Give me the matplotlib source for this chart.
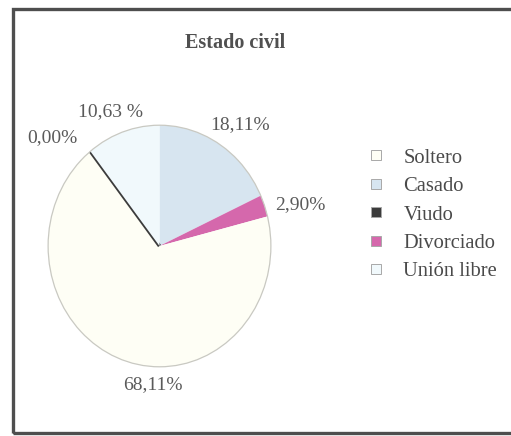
import matplotlib
matplotlib.use('Agg')
import matplotlib.pyplot as plt
from matplotlib.lines import Line2D
from matplotlib.patches import Rectangle, Ellipse

plt.rcParams['font.family'] = ['Liberation Serif', 'DejaVu Serif']

# Legend order
categories = ["Soltero", "Casado", "Viudo", "Divorciado", "Unión libre"]
percentages = [68.11, 18.11, 0.00, 2.90, 10.63]
pct_labels = ["68,11%", "18,11%", "0,00%", "2,90%", "10,63 %"]
colors = ["#FEFEF5", "#D7E5F0", "#3C3C3C", "#D568AC", "#F1F9FC"]

# Order in which slices are drawn clockwise from 12 o'clock
draw_order = ["Casado", "Divorciado", "Soltero", "Viudo", "Unión libre"]

W, H = 511, 436
fig = plt.figure(figsize=(W / 100, H / 100), dpi=100)
fig.patch.set_facecolor('white')

# pie area (pixels): x 47..272, y 124..368
ax = fig.add_axes([47 / W, (H - 368) / H, 225 / W, 244 / H])
idx = [categories.index(c) for c in draw_order]
wedges, _ = ax.pie([percentages[i] for i in idx],
                   colors=[colors[i] for i in idx],
                   startangle=90, counterclock=False, radius=1,
                   wedgeprops=dict(edgecolor='none', linewidth=0))
for w, i in zip(wedges, idx):
    if categories[i] == "Viudo":
        w.set_edgecolor(colors[i])
        w.set_linewidth(2.6)
ax.add_patch(Ellipse((0, 0), 2, 2, fill=False, ec='#C9C9C2', lw=0.9))
ax.set_aspect('auto')
ax.set_xlim(-1.01, 1.01)
ax.set_ylim(-1.01, 1.01)
ax.axis('off')

# percentage labels (pixel positions from the original layout)
label_pos = {"Soltero": (153, 385), "Casado": (240, 125), "Viudo": (52, 138),
             "Divorciado": (300, 205), "Unión libre": (111, 112)}
for c, lab in zip(categories, pct_labels):
    x, y = label_pos[c]
    fig.text(x / W, 1 - y / H, lab, ha='center', va='center',
             fontsize=14, color='#5a5a5a')

fig.text(235 / W, 1 - 43 / H, "Estado civil", ha='center', va='center',
         fontsize=14.5, fontweight='bold', color='#505050')

handles = [Line2D([], [], linestyle='none', marker='s', markersize=7,
                  markerfacecolor=col, markeredgecolor='#A8A8A8',
                  markeredgewidth=0.7) for col in colors]
leg = fig.legend(handles, categories, loc='upper left',
                 bbox_to_anchor=(355 / W, 1 - 138 / H), frameon=False,
                 fontsize=14.8, handlelength=1.0, handletextpad=0.85,
                 labelspacing=0.44, borderpad=0)
for t in leg.get_texts():
    t.set_color('#4a4a4a')

# outer frame of the scanned chart
fig.add_artist(Rectangle((13 / W, (H - 433) / H), 1.2, (433 - 9) / H,
                         transform=fig.transFigure, fill=False,
                         ec='#4e4e4e', lw=2.4))

fig.savefig('out.png', dpi=100)
